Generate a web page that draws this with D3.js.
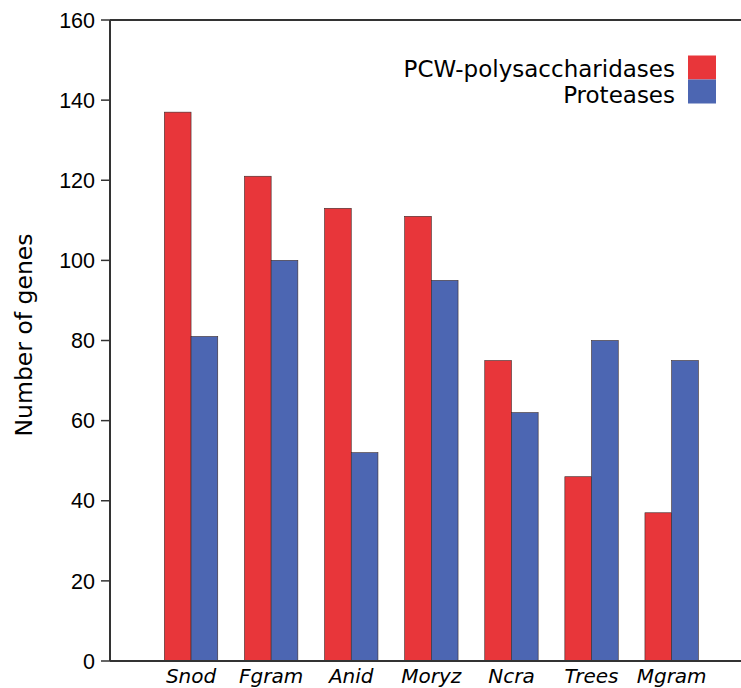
<!DOCTYPE html>
<html>
<head>
  <script src="https://d3js.org/d3.v7.min.js"></script>
  <style>
    body { margin: 0; background: #fff; }
    svg { display: block; }
    .tick-label { font-family: "Liberation Sans", Arial, sans-serif; font-size: 21.5px; fill: #000; }
    .cat-label { font-family: "DejaVu Sans", sans-serif; font-style: italic; font-size: 20px; fill: #000; }
    .legend-label { font-family: "DejaVu Sans", sans-serif; font-size: 23px; fill: #000; }
    .axis-title { font-family: "DejaVu Sans", sans-serif; font-size: 23.5px; fill: #000; }
  </style>
</head>
<body>
  <div id="chart"></div>
  <script>
    // data
    const categories = ['Snod', 'Fgram', 'Anid', 'Moryz', 'Ncra', 'Trees', 'Mgram'];
    const seriesNames = ['PCW-polysaccharidases', 'Proteases'];
    const pcwValues = [137, 121, 113, 111, 75, 46, 37];
    const proteaseValues = [81, 100, 52, 95, 62, 80, 75];
    const yTicks = [0, 20, 40, 60, 80, 100, 120, 140, 160];
    const colors = ['#e8363a', '#4c66b2'];

    const width = 741, height = 688;
    const plotLeft = 110, plotTop = 20, plotBottom = 661;

    const svg = d3.select('#chart').append('svg')
      .attr('width', width)
      .attr('height', height);

    const y = d3.scaleLinear().domain([0, 160]).range([plotBottom, plotTop]);
    const x = d3.scaleBand().domain(categories).range([151, 711.7])
      .paddingInner(1 / 3).paddingOuter(1 / 6);
    const xSub = d3.scaleBand().domain(seriesNames).range([0, x.bandwidth()]);

    const rows = categories.map((c, i) => ({ cat: c, values: [pcwValues[i], proteaseValues[i]] }));

    // bars
    const group = svg.append('g').selectAll('g')
      .data(rows)
      .join('g')
      .attr('transform', d => `translate(${x(d.cat)},0)`);

    group.selectAll('rect')
      .data(d => d.values.map((v, i) => ({ name: seriesNames[i], v: v, i: i })))
      .join('rect')
      .attr('x', d => xSub(d.name))
      .attr('y', d => y(d.v))
      .attr('width', xSub.bandwidth())
      .attr('height', d => y(0) - y(d.v))
      .attr('fill', d => colors[d.i])
      .attr('stroke', '#3a2a2a')
      .attr('stroke-width', 0.6);

    // frame lines: left axis, top, bottom
    svg.append('line').attr('x1', plotLeft).attr('x2', plotLeft).attr('y1', plotTop).attr('y2', plotBottom)
      .attr('stroke', '#333').attr('stroke-width', 2);
    svg.append('line').attr('x1', plotLeft).attr('x2', width).attr('y1', plotTop).attr('y2', plotTop)
      .attr('stroke', '#333').attr('stroke-width', 2);
    svg.append('line').attr('x1', plotLeft).attr('x2', width).attr('y1', plotBottom).attr('y2', plotBottom)
      .attr('stroke', '#333').attr('stroke-width', 2);

    // y ticks
    const yAxis = svg.append('g');
    yAxis.selectAll('line')
      .data(yTicks)
      .join('line')
      .attr('x1', plotLeft - 9).attr('x2', plotLeft)
      .attr('y1', d => y(d)).attr('y2', d => y(d))
      .attr('stroke', '#333').attr('stroke-width', 1.5);
    yAxis.selectAll('text')
      .data(yTicks)
      .join('text')
      .attr('class', 'tick-label')
      .attr('x', 95)
      .attr('y', d => y(d))
      .attr('dy', '0.36em')
      .attr('text-anchor', 'end')
      .text(d => d);

    // category labels
    svg.append('g').selectAll('text')
      .data(categories)
      .join('text')
      .attr('class', 'cat-label')
      .attr('x', d => x(d) + x.bandwidth() / 2)
      .attr('y', 683)
      .attr('text-anchor', 'middle')
      .text(d => d);

    // y axis title
    svg.append('text')
      .attr('class', 'axis-title')
      .attr('transform', 'translate(32,335) rotate(-90)')
      .attr('text-anchor', 'middle')
      .text('Number of genes');

    // legend
    const legend = svg.append('g');
    legend.selectAll('rect')
      .data(seriesNames)
      .join('rect')
      .attr('x', 688).attr('y', (d, i) => 55.5 + i * 24)
      .attr('width', 28).attr('height', 24)
      .attr('fill', (d, i) => colors[i]);
    legend.selectAll('text')
      .data(seriesNames)
      .join('text')
      .attr('class', 'legend-label')
      .attr('x', 675).attr('y', (d, i) => 77 + i * 25.5)
      .attr('text-anchor', 'end')
      .text(d => d);
  </script>
</body>
</html>
